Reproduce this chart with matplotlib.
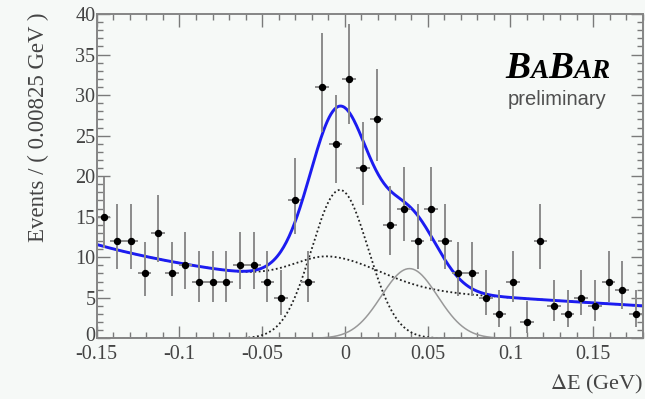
import numpy as np
import matplotlib
matplotlib.use("Agg")
import matplotlib.pyplot as plt
from matplotlib.ticker import MultipleLocator
from matplotlib.transforms import ScaledTranslation
from matplotlib.offsetbox import TextArea, HPacker, AnnotationBbox

# binning: 40 bins of 0.00825 GeV between -0.15 and 0.18
x_lo, x_hi = -0.15, 0.18
bin_width = 0.00825
counts = [15, 12, 12, 8, 13, 8, 9, 7, 7, 7,
          9, 9, 7, 5, 17, 7, 31, 24, 32, 21,
          27, 14, 16, 12, 16, 12, 8, 8, 5, 3,
          7, 2, 12, 4, 3, 5, 4, 7, 6, 3]

# fit components
cont_p0, cont_p1 = 5.85, -10.8          # linear continuum
cont_exp_amp, cont_exp_len = 4.1, 0.09  # falling part at low dE
bb_amp, bb_mean = 3.3, -0.008           # broad BB background bump
bb_sig_l, bb_sig_r = 0.022, 0.029
sig_amp, sig_mean, sig_sigma = 18.3, -0.003, 0.017
xf_amp, xf_mean, xf_sigma = 8.6, 0.039, 0.017

counts = np.array(counts, dtype=float)
centers = x_lo + bin_width * (np.arange(len(counts)) + 0.5)

# asymmetric poisson errors (Wilson-Hilferty approximation)
n = counts
err_hi = (n + 1) * (1 - 1 / (9 * (n + 1)) + 1 / (3 * np.sqrt(n + 1))) ** 3 - n
err_lo = n - n * (1 - 1 / (9 * n) - 1 / (3 * np.sqrt(n))) ** 3


def background(x):
    cont = cont_p0 + cont_p1 * x + cont_exp_amp * np.exp(-(x - x_lo) / cont_exp_len)
    sig = np.where(x < bb_mean, bb_sig_l, bb_sig_r)
    return cont + bb_amp * np.exp(-0.5 * ((x - bb_mean) / sig) ** 2)


def gauss(x, a, m, s):
    return a * np.exp(-0.5 * ((x - m) / s) ** 2)


xs = np.linspace(x_lo, x_hi, 600)
bkg = background(xs)
signal = gauss(xs, sig_amp, sig_mean, sig_sigma)
xfeed = gauss(xs, xf_amp, xf_mean, xf_sigma)
total = bkg + signal + xfeed

bg_col = '#f6f9f7'
fig = plt.figure(figsize=(6.45, 3.99), dpi=100, facecolor=bg_col)
ax = fig.add_axes([0.150, 0.152, 0.8465, 0.813], facecolor=bg_col)

dotted = (0, (1.0, 1.4))
ax.plot(xs, bkg, color='#222222', lw=1.3, ls=dotted)
ax.plot(xs, signal, color='#222222', lw=1.3, ls=dotted)
ax.plot(xs, xfeed, color='#999999', lw=1.1)
ax.plot(xs, total, color='#1c1cf0', lw=2.1)

ax.errorbar(centers, counts, yerr=[err_lo, err_hi], xerr=bin_width / 2,
            fmt='o', ms=4.3, color='black', ecolor='#8c8c8c', elinewidth=1.4,
            capsize=0, zorder=5)

ax.set_xlim(x_lo, x_hi)
ax.set_ylim(0, 40)
ax.xaxis.set_minor_locator(MultipleLocator(0.01))
ax.yaxis.set_minor_locator(MultipleLocator(1))
ax.set_xticks([-0.15, -0.1, -0.05, 0, 0.05, 0.1, 0.15])
ax.set_xticklabels(['-0.15', '-0.1', '-0.05', '0', '0.05', '0.1', '0.15'])
ax.set_yticks([0, 5, 10, 15, 20, 25, 30, 35, 40])
ax.set_yticklabels(['0', '5', '10', '15', '20', '25', '30', '35', '40'])

serif = 'Liberation Serif'
ax.tick_params(which='both', direction='in', top=True, right=True,
               color='#7a7a7a', width=1.0, labelcolor='#444444')
ax.tick_params(which='major', length=9)
ax.tick_params(which='minor', length=4.5)
ax.tick_params(axis='x', pad=5)
ax.tick_params(axis='y', pad=1)
for lab in ax.get_xticklabels() + ax.get_yticklabels():
    lab.set_family(serif)
    lab.set_fontsize(14.5)
# keep the "0" of the y axis clear of "-0.15" below it
zero_lab = ax.yaxis.get_major_ticks()[0].label1
zero_lab.set_transform(zero_lab.get_transform() +
                       ScaledTranslation(0, 3 / 72, fig.dpi_scale_trans))
for sp in ax.spines.values():
    sp.set_color('#858585')
    sp.set_linewidth(1.4)

fig.text(0.060, 0.968, 'Events / ( 0.00825 GeV )', rotation=90, ha='center', va='top',
         family=serif, fontsize=16.5, color='#444444')
fig.text(0.997, 0.025, r'$\Delta$E (GeV)', ha='right', va='baseline',
         family=serif, fontsize=16, color='#444444',
         math_fontfamily='stix')

# BaBar logo
parts = [('B', 27), ('A', 19.5), ('B', 27), ('A', 19.5), ('R', 19.5)]
props = dict(family=serif, style='italic', weight='bold', color='black')
boxes = [TextArea(s, textprops=dict(size=fs, **props)) for s, fs in parts]
logo = HPacker(children=boxes, align='baseline', pad=0, sep=0)
fig.add_artist(AnnotationBbox(logo, (0.945, 0.785), xycoords='figure fraction',
                              box_alignment=(1, 0), frameon=False))
fig.text(0.940, 0.737, 'preliminary', ha='right', va='baseline',
         family='Liberation Sans', fontsize=14.5, color='#505050')

fig.savefig('out.png', dpi=100, facecolor=bg_col)
